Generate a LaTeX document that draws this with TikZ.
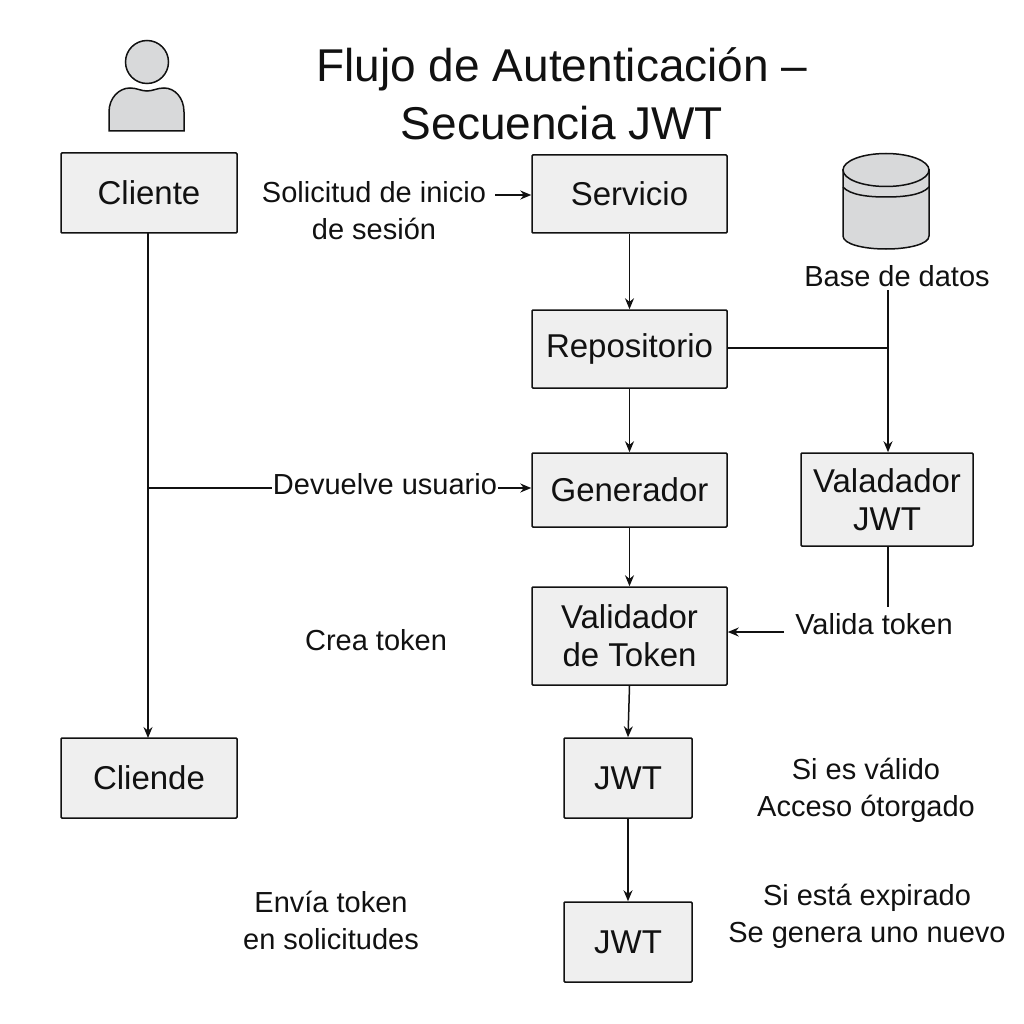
\documentclass[tikz,border=0pt]{standalone}
\usepackage{fontspec}
\setmainfont{Liberation Sans}
\usetikzlibrary{arrows.meta,calc}
\definecolor{boxfill}{HTML}{EFEFEF}
\definecolor{icongray}{HTML}{D8D9DA}
\definecolor{ink}{HTML}{111111}
\tikzset{
  x=1pt,y=-1pt,
  box/.style={draw=ink,fill=boxfill,line width=1.5pt,rounded corners=1pt,inner sep=0pt,align=center,font=\fontsize{33}{38}\selectfont,text=ink},
  lbl/.style={inner sep=0pt,align=center,font=\fontsize{29}{37}\selectfont,text=ink},
  conn/.style={draw=ink,line width=1.5pt},
  arr/.style={conn,-{Stealth[length=11pt,width=9pt]}},
  icon/.style={draw=ink,fill=icongray,line width=1.5pt}
}
\newcommand{\bx}[6]{\node[box,minimum width=#4 pt-#2 pt,minimum height=#5 pt-#3 pt] (#1) at ({(#2+#4)/2},{(#3+#5)/2}) {#6};}
\begin{document}
\begin{tikzpicture}
\useasboundingbox (0,0) rectangle (1024,1024);
% title
\node[inner sep=0pt,align=center,font=\fontsize{46}{58}\selectfont,text=ink] (title) at (562,94) {Flujo de Autenticación –\\Secuencia JWT};
% user icon
\draw[icon] (109,131) -- (109,112) .. controls (109,98) and (119,88) .. (130,88) .. controls (137,88) and (141,91) .. (147,91) .. controls (153,91) and (157,88) .. (164,88) .. controls (175,88) and (184,98) .. (184,112) -- (184,131) -- cycle;
\draw[icon] (147,62) circle (21.5);
% database icon
\draw[icon] (843,170) -- (843,236) .. controls (843,244) and (863,249) .. (886,249) .. controls (909,249) and (929,244) .. (929,236) -- (929,170) -- cycle;
\draw[conn] (843,187) .. controls (850,195) and (868,197) .. (886,197) .. controls (904,197) and (922,195) .. (929,187);
\draw[icon] (886,170) ellipse (43 and 16.5);
% boxes
\bx{cliente}{61}{153}{237}{233}{Cliente}
\bx{servicio}{532}{155}{727}{233}{Servicio}
\bx{repo}{532}{310}{727}{388}{Repositorio}
\bx{gen}{532}{453}{727}{527}{Generador}
\bx{valtok}{532}{587}{727}{685}{Validador\\de Token}
\bx{jwta}{564}{738}{692}{818}{JWT}
\bx{jwtb}{564}{902}{692}{982}{JWT}
\bx{valjwt}{801}{453}{973}{546}{Valadador\\JWT}
\bx{cliende}{61}{738}{237}{818}{Cliende}
% labels
\node[lbl] (sol) at (374,211) {Solicitud de inicio\\de sesión};
\node[lbl] (base) at (897,276) {Base de datos};
\node[lbl] (dev) at (385,484) {Devuelve usuario};
\node[lbl] (crea) at (376,640) {Crea token};
\node[lbl] (valida) at (874,624) {Valida token};
\node[lbl] (siv) at (866,790) {Si es válido\\Acceso ótorgado};
\node[lbl] (env) at (331,920) {Envía token\\en solicitudes};
\node[lbl] (sie) at (867,916) {Si está expirado\\Se genera uno nuevo};
% junction helpers
\coordinate (jdb) at (888,348);
\coordinate (jcl) at (148,488);
\coordinate (basefoot) at (888,290);
\coordinate (valfoot) at (888,607);
\coordinate (solend) at (495,195);
\coordinate (devend) at (498,488);
\coordinate (valend) at (784,632);
% connectors
\draw[arr] (148,233) -- (148,738);
\draw[conn] (jcl) -- (272,488);
\draw[arr] (devend) -- (gen.west |- devend);
\draw[arr] (solend) -- (servicio.west |- solend);
\draw[arr] (servicio.south) -- (repo.north);
\draw[arr] (repo.south) -- (gen.north);
\draw[arr] (gen.south) -- (valtok.north);
\draw[arr] (valtok.south) -- (jwta.north);
\draw[arr] (jwta.south) -- (jwtb.north);
\draw[conn] (repo.east |- jdb) -- (jdb);
\draw[arr] (basefoot) -- (valjwt.north -| basefoot);
\draw[conn] (valjwt.south -| valfoot) -- (valfoot);
\draw[arr] (valend) -- (valtok.east |- valend);
\end{tikzpicture}
\end{document}
